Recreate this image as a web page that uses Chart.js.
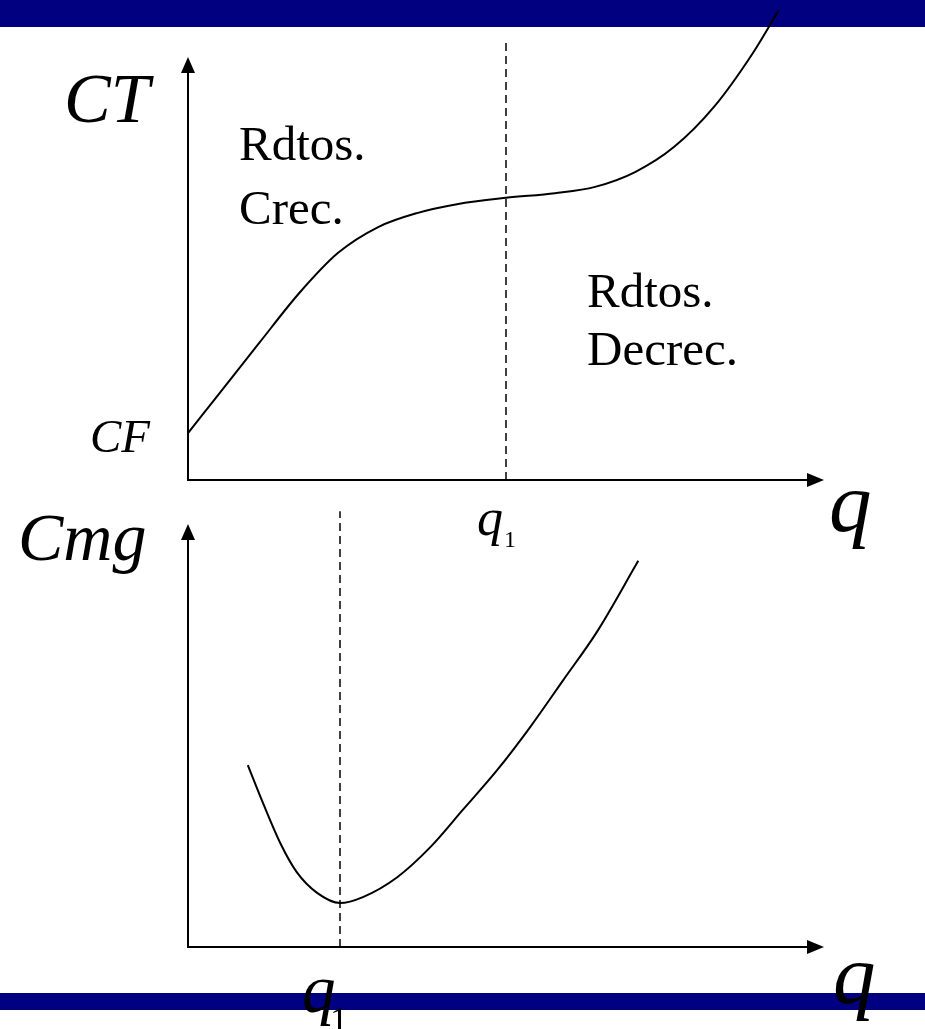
<!DOCTYPE html>
<html>
<head>
<meta charset="utf-8">
<title>CT y Cmg</title>
<script src="https://cdn.jsdelivr.net/npm/chart.js@4/dist/chart.umd.min.js"></script>
<style>
  body { margin: 0; background: #fff; }
  .page { position: relative; width: 925px; height: 1029px; overflow: hidden; }
  .band { position: absolute; left: 0; width: 925px; background: #000080; }
  canvas { position: absolute; left: 0; top: 0; }
</style>
</head>
<body>
<div class="page">
  <div class="band" style="top:0;height:27px"></div>
  <div class="band" style="top:993px;height:17px"></div>
  <canvas id="ctChart" width="925" height="1029"></canvas>
  <canvas id="cmgChart" width="925" height="1029"></canvas>
</div>
<script>
// Costo total (q from 0 to 10, CT from 0 to 100)
const ctQ = [0, 0.50, 1.12, 1.75, 2.36, 2.99, 3.60, 4.23, 5.00, 5.77, 6.40, 7.03, 7.64, 8.27, 8.88, 9.29];
const ctValues = [11.1, 20.6, 32.4, 44.2, 53.7, 59.8, 63.1, 65.2, 66.7, 67.8, 69.3, 72.8, 78.7, 88.2, 100.9, 111.1];
const ctQ1 = 5.0;
const ctGuideTop = 104;

// Costo marginal
const cmgQ = [0.94, 1.18, 1.45, 1.71, 2.03, 2.39, 2.75, 3.29, 3.81, 4.32, 4.86, 5.38, 5.90, 6.43, 7.08];
const cmgValues = [43.0, 34.0, 24.6, 17.7, 12.8, 10.4, 11.8, 16.5, 23.6, 32.4, 41.8, 52.0, 63.1, 74.5, 91.3];
const cmgQ1 = 2.39;
const cmgGuideTop = 103;

const serif = '"Liberation Serif", "Times New Roman", serif';

const ctLabels = [
    { text: 'CT', x: 64, y: 122, font: `italic 70px ${serif}` },
    { text: 'CF', x: 90, y: 452, font: `italic 47px ${serif}` },
    { text: 'Rdtos.', x: 239, y: 160, font: `49px ${serif}` },
    { text: 'Crec.', x: 239, y: 224, font: `49px ${serif}` },
    { text: 'Rdtos.', x: 587, y: 307, font: `49px ${serif}` },
    { text: 'Decrec.', x: 587, y: 365, font: `49px ${serif}` },
    { text: 'q', x: 477, y: 535, font: `italic 52px ${serif}` },
    { text: '1', x: 504, y: 547, font: `24px ${serif}` },
    { text: 'q', x: 829, y: 531, font: `italic 85px ${serif}` },
];

const cmgLabels = [
    { text: 'Cmg', x: 18, y: 560, font: `italic 68px ${serif}` },
    { text: 'q', x: 302, y: 1012, font: `italic 67px ${serif}` },
    { text: '1', x: 330, y: 1032, font: `36px ${serif}` },
    { text: 'q', x: 833, y: 1003, font: `italic 85px ${serif}` },
];

const toPoints = (xs, ys) => xs.map((x, i) => ({ x, y: ys[i] }));

// Axes with arrow heads, drawn under the curves
const arrowAxes = {
    id: 'arrowAxes',
    beforeDatasetsDraw(chart) {
        const { ctx, chartArea: a } = chart;
        ctx.save();
        ctx.strokeStyle = '#000';
        ctx.fillStyle = '#000';
        ctx.lineWidth = 2;
        ctx.beginPath();
        ctx.moveTo(a.left, a.top + 12);
        ctx.lineTo(a.left, a.bottom);
        ctx.lineTo(a.right - 12, a.bottom);
        ctx.stroke();
        // vertical arrow
        ctx.beginPath();
        ctx.moveTo(a.left, a.top);
        ctx.lineTo(a.left - 7, a.top + 16);
        ctx.lineTo(a.left + 7, a.top + 16);
        ctx.closePath();
        ctx.fill();
        // horizontal arrow
        ctx.beginPath();
        ctx.moveTo(a.right, a.bottom);
        ctx.lineTo(a.right - 17, a.bottom - 7);
        ctx.lineTo(a.right - 17, a.bottom + 7);
        ctx.closePath();
        ctx.fill();
        ctx.restore();
    },
};

// Text labels
const textLabels = {
    id: 'textLabels',
    afterDraw(chart, args, opts) {
        const { ctx } = chart;
        ctx.save();
        ctx.fillStyle = '#000';
        ctx.textBaseline = 'alphabetic';
        opts.items.forEach((l) => {
            ctx.font = l.font;
            ctx.fillText(l.text, l.x, l.y);
        });
        ctx.restore();
    },
};

function costChart(id, xs, ys, q1, guideTop, labels, pad) {
    const ctx = document.getElementById(id).getContext('2d');
    return new Chart(ctx, {
        type: 'scatter',
        data: {
            datasets: [
                {
                    data: toPoints(xs, ys),
                    showLine: true,
                    borderColor: '#000',
                    borderWidth: 2,
                    pointRadius: 0,
                    cubicInterpolationMode: 'monotone',
                    clip: false,
                },
                {
                    data: toPoints([q1, q1], [0, guideTop]),
                    showLine: true,
                    borderColor: '#000',
                    borderWidth: 1.5,
                    borderDash: [8, 5],
                    pointRadius: 0,
                    clip: false,
                },
            ],
        },
        options: {
            responsive: false,
            animation: false,
            events: [],
            layout: { padding: pad },
            plugins: {
                legend: { display: false },
                tooltip: { enabled: false },
                textLabels: { items: labels },
            },
            scales: {
                x: { type: 'linear', min: 0, max: 10, display: false },
                y: { type: 'linear', min: 0, max: 100, display: false },
            },
        },
        plugins: [arrowAxes, textLabels],
    });
}

costChart('ctChart', ctQ, ctValues, ctQ1, ctGuideTop, ctLabels,
    { left: 188, right: 101, top: 57, bottom: 549 });
costChart('cmgChart', cmgQ, cmgValues, cmgQ1, cmgGuideTop, cmgLabels,
    { left: 188, right: 101, top: 524, bottom: 82 });
</script>
</body>
</html>
